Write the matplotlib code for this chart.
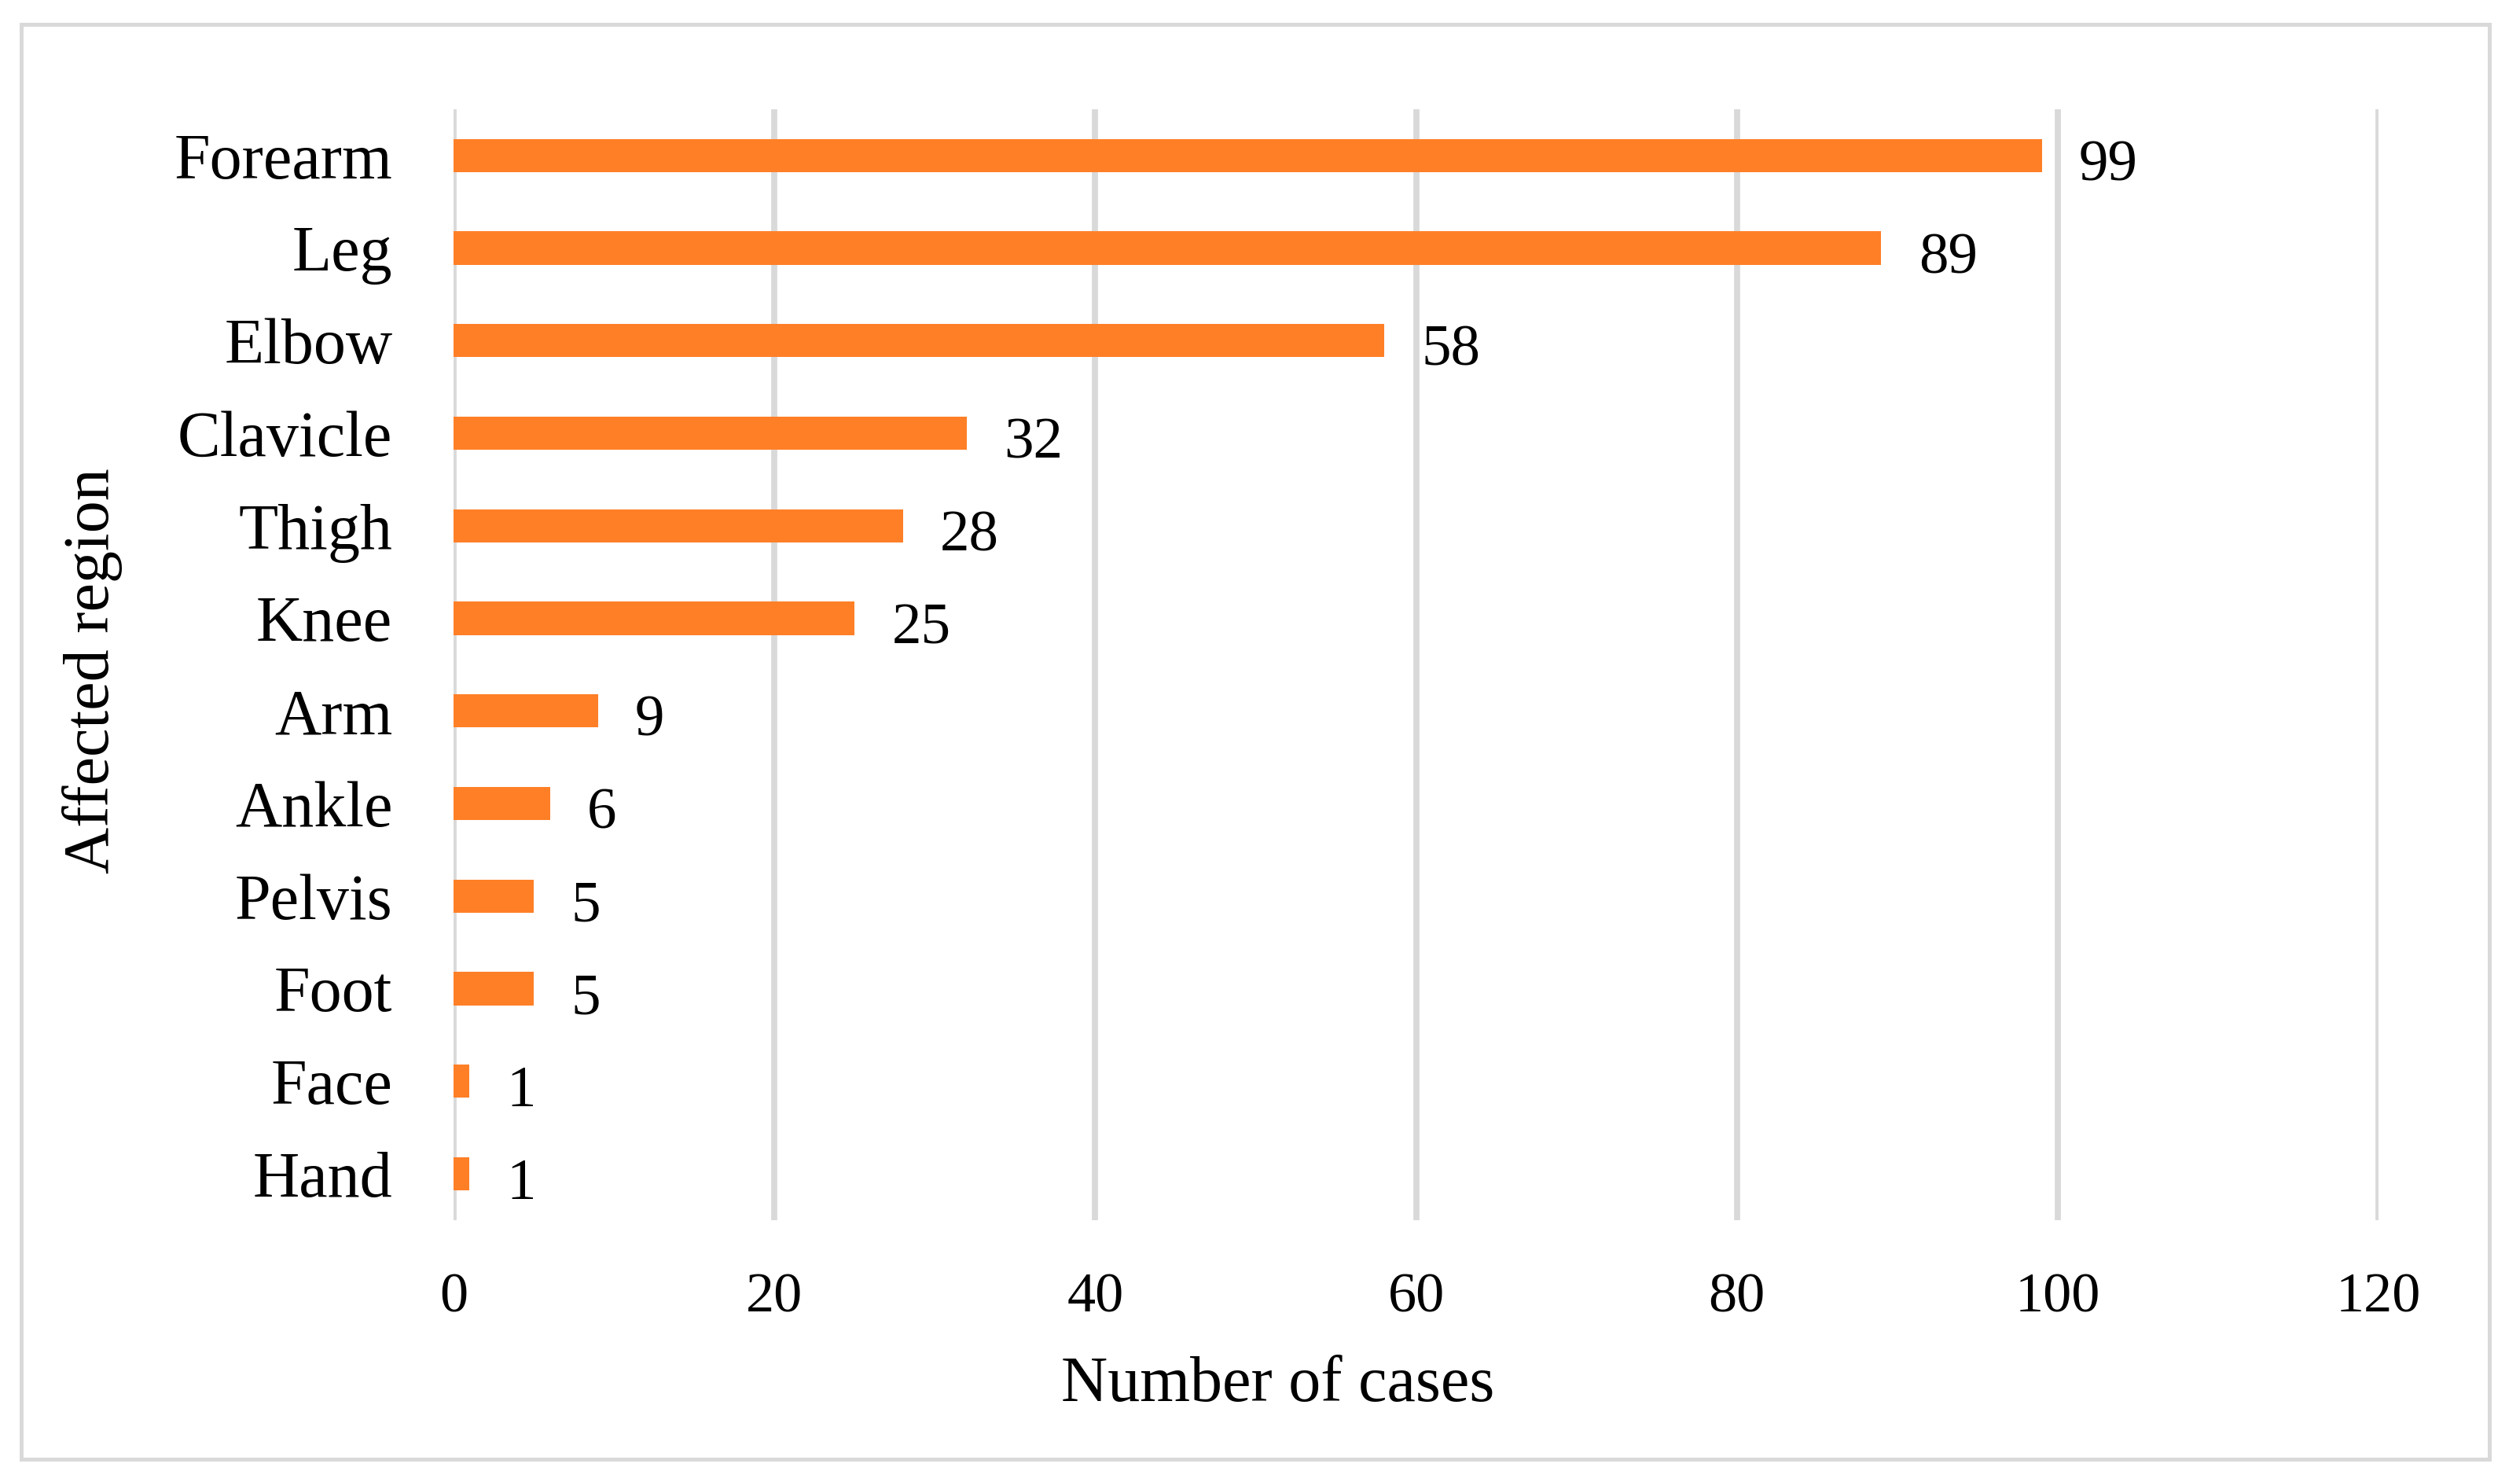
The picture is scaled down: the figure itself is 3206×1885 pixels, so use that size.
import matplotlib
matplotlib.use("Agg")
import matplotlib.pyplot as plt
from matplotlib.patches import Rectangle

regions = ["Forearm", "Leg", "Elbow", "Clavicle", "Thigh", "Knee",
           "Arm", "Ankle", "Pelvis", "Foot", "Face", "Hand"]
cases = [99, 89, 58, 32, 28, 25, 9, 6, 5, 5, 1, 1]
x_ticks = [0, 20, 40, 60, 80, 100, 120]

plt.rcParams['font.family'] = ['Liberation Serif', 'DejaVu Serif']

fig = plt.figure(figsize=(16.03, 9.425), dpi=200)
ax = fig.add_axes([0.18, 0.1767, 0.7639, 0.7496])

pos = list(range(len(regions)))
ax.barh(pos, cases, height=0.36, color="#FF7F27", zorder=3)

# value labels to the right of each bar
for y, v in zip(pos, cases):
    ax.annotate(str(v), xy=(v, y), xytext=(17, -5), textcoords="offset points",
                ha="left", va="center", fontsize=27, color="black")

ax.set_xlim(0, 120)
ax.set_ylim(len(regions) - 0.5, -0.5)
ax.set_xticks(x_ticks)
ax.set_yticks(pos)
ax.set_yticklabels(regions, fontsize=29.5)
ax.tick_params(axis="x", labelsize=26, length=0, pad=24)
ax.tick_params(axis="y", length=0, pad=28)
ax.grid(axis="x", color="#d9d9d9", linewidth=2.8, zorder=0)
ax.set_axisbelow(True)
for s in ax.spines.values():
    s.set_visible(False)

fig.text(0.507, 0.065, "Number of cases", ha="center", va="center", fontsize=29.5)
fig.text(0.0365, 0.5475, "Affected region", ha="center", va="center",
         rotation=90, fontsize=29.5)

fig.patches.append(Rectangle((0.0084, 0.0154), 0.9794, 0.9682,
                             transform=fig.transFigure, fill=False,
                             edgecolor="#d9d9d9", linewidth=1.8))

fig.savefig("out.png", dpi=200, facecolor="white")
